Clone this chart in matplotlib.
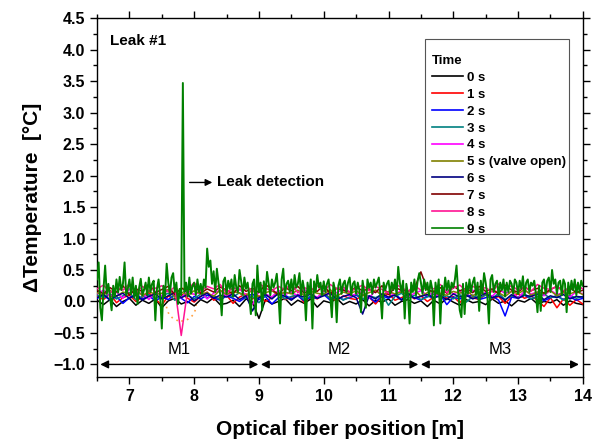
import numpy as np
import matplotlib
matplotlib.use("Agg")
import matplotlib.pyplot as plt
from matplotlib.patches import Ellipse, Rectangle
from matplotlib.ticker import MultipleLocator

plt.rcParams['font.family'] = ['Liberation Sans', 'DejaVu Sans']

# ---- data (values in hundredths of a degree C) ----
labels = ["0 s", "1 s", "2 s", "3 s", "4 s", "5 s (valve open)", "6 s", "7 s", "8 s", "9 s"]
colors = ["#000000", "#FF0000", "#0000FF", "#008080", "#FF00FF", "#808000",
          "#000080", "#800000", "#FF1493", "#008000"]

t0 = [2,-5,3,-8,0,5,-6,2,-3,4, -10,1,5,-4,0,-7,3,-2,6,-5, -3,2,-8,4,-1,-27,3,-4,0,5,
      -6,2,-3,4,-9,1,-2,5,-5,0, -4,3,-7,2,-1,4,-6,0,3,-3, 1,-8,2,-4,5,-1,-6,3,-2,0,
      -5,4,-3,1,-7,2,-1,5,-4,0, -2,3,-6,1,-3,-5]
t1 = [8,3,12,-2,6,10,0,7,14,4, -6,9,3,12,5,-1,8,15,2,6, 10,-3,7,12,4,9,0,6,13,3,
      7,11,-2,8,4,12,6,1,9,5, 3,10,7,-4,8,12,2,6,11,4, 9,0,7,13,5,8,-2,10,6,3,
      11,4,8,-3,7,12,5,9,2,-8, 6,-10,4,-6,3,-4]
t2 = [5,10,2,8,-3,6,12,4,9,1, 7,3,11,5,-2,8,4,10,6,2, 9,5,0,7,12,3,8,-4,6,10,
      4,9,1,7,5,11,2,8,3,6, 10,4,7,-1,9,5,12,3,8,6, 2,9,5,11,-5,7,4,8,10,3,
      6,9,2,-23,7,5,10,4,8,1, 6,9,3,7,2,5]
t3 = [10,6,12,4,9,14,3,8,11,5, 9,13,2,7,10,4,12,6,9,3, 11,7,14,5,8,-2,10,6,12,4,
      8,11,3,9,6,13,5,10,2,7, 12,4,9,6,11,-6,8,13,5,10, 3,7,12,6,9,4,11,-1,8,6,
      10,5,13,3,9,7,12,4,8,11, 6,9,2,10,5,8]
t4 = [12,18,8,15,5,20,10,14,3,16, 9,19,12,6,17,11,15,4,13,18, 8,14,20,10,-5,16,12,7,18,11,
      15,9,19,13,6,17,10,14,20,8, 12,16,5,18,11,15,9,19,7,13, 17,10,14,6,20,12,16,9,18,11,
      14,8,19,13,16,5,17,12,15,9, 18,11,14,7,16,12]
t5 = [14,10,18,8,15,12,20,9,16,11, 13,19,7,15,10,17,12,14,8,18, 11,16,13,9,19,6,14,17,10,15,
      12,18,9,16,13,11,19,8,15,12, 17,10,14,18,9,16,12,15,11,19, 8,14,17,12,10,16,13,18,9,15,
      11,17,14,8,16,12,19,10,15,13, 17,9,14,12,16,11]
t6 = [6,11,3,9,13,5,10,2,8,12, 4,9,14,6,11,1,8,13,5,10, 7,12,3,9,-15,6,11,4,13,8,
      2,10,7,12,5,9,14,3,8,11, 6,-20,9,4,12,7,10,2,13,5, 8,11,6,9,3,12,7,10,4,8,
      13,6,9,2,11,5,10,8,12,3, 9,6,11,4,8,7]
t7 = [18,12,22,15,25,10,20,16,28,14, 19,24,11,21,17,26,13,20,15,23, 18,12,25,16,21,14,27,19,11,22,
      17,24,13,20,16,26,12,21,18,15, 23,17,20,14,25,11,22,18,16,20, 47,19,15,22,13,25,17,21,14,24,
      16,20,12,26,18,15,23,17,21,13, 19,24,16,22,14,18]
t8 = [20,26,14,22,18,28,12,24,17,21, 25,15,23,-54,19,30,16,24,20,27, 13,22,18,26,15,29,21,17,24,19,
      28,14,22,18,25,16,27,20,23,15, 21,26,17,24,19,13,28,22,16,25, 18,23,20,27,14,21,26,17,24,19,
      22,15,28,20,25,18,23,16,27,21, 19,24,17,22,26,20]
t9 = [35,62,-10,-30,20,57,12,28,8,-14,
      25,8,35,14,39,18,28,62,10,20,
      35,12,38,6,25,-4,22,36,10,18,
      30,10,38,15,28,33,-30,20,35,8,
      -43,25,8,60,30,12,38,45,15,30,
      -4,20,10,347,15,30,8,38,12,25,
      30,10,35,15,28,12,35,22,84,55,
      65,28,48,15,52,30,12,-22,32,38,
      12,33,20,35,8,42,22,15,50,32,
      12,38,20,30,8,-20,28,35,-22,57,
      15,30,-14,32,12,47,28,10,35,22,
      30,44,12,-35,35,52,10,28,33,15,
      35,12,42,22,28,45,10,33,18,-30,
      30,12,35,-43,32,15,42,22,30,10,
      32,15,28,35,10,-25,30,18,-33,25,
      35,12,28,33,15,30,38,10,28,32,
      12,30,18,-17,33,15,-10,35,22,30,
      12,35,22,30,38,10,-27,30,18,28,
      33,12,30,18,35,10,55,30,15,33,
      -27,28,12,-35,30,15,35,10,33,45,
      30,12,35,18,30,10,33,20,-38,30,
      12,35,-35,25,10,38,18,33,12,30,
      22,35,57,15,-14,-25,28,-20,30,12,
      35,15,30,38,10,30,-15,33,12,45,
      30,10,-35,35,42,15,28,33,10,30,
      18,35,8,30,15,33,28,12,35,30,
      12,33,20,40,10,30,35,15,30,25,
      33,12,-17,25,-15,30,35,12,33,38,
      15,50,28,35,12,30,33,10,35,28,
      -17,30,12,33,18,35,10,30,15,33,
      25]
series = [t0, t1, t2, t3, t4, t5, t6, t7, t8, t9]
x_start, x_end = 6.5, 14.0

sections = ["M1", "M2", "M3"]
section_bounds = [(6.55, 8.99), (9.03, 11.46), (11.5, 13.94)]

# ---- figure ----
fig = plt.figure(figsize=(5.99, 4.42), dpi=100)
ax = fig.add_axes([0.162, 0.147, 0.811, 0.812])

# dotted orange ellipse around leak position (behind data)
ax.add_patch(Ellipse((7.8, -0.05), 0.46, 0.52, fill=False, ls=(0, (1.0, 2.5)),
                     lw=1.2, ec='#FFA040', zorder=1))

for i, (vals, lab, col) in enumerate(zip(series, labels, colors)):
    y = np.array(vals) / 100.0
    x = np.linspace(x_start, x_end, len(y))
    ax.plot(x, y, color=col, lw=1.4 if i == 9 else 1.1, label=lab, zorder=2 + i)

ax.set_xlim(6.5, 14)
ax.set_ylim(-1.2, 4.5)
ax.xaxis.set_major_locator(MultipleLocator(1))
ax.xaxis.set_minor_locator(MultipleLocator(0.5))
ax.yaxis.set_major_locator(MultipleLocator(0.5))
ax.yaxis.set_minor_locator(MultipleLocator(0.25))
ax.tick_params(which='both', direction='out', top=True, right=True, width=1.0)
ax.tick_params(which='major', length=5, labelsize=11.5)
ax.tick_params(which='minor', length=3)
ax.set_xticks([7, 8, 9, 10, 11, 12, 13, 14])
ax.set_xticklabels([str(v) for v in [7, 8, 9, 10, 11, 12, 13, 14]])
for lbl in ax.get_xticklabels() + ax.get_yticklabels():
    lbl.set_fontweight('bold')
for s in ax.spines.values():
    s.set_linewidth(1.0)

ax.set_xlabel("Optical fiber position [m]", fontsize=15, fontweight='bold', labelpad=12)
ax.set_ylabel("ΔTemperature  [°C]", fontsize=15, fontweight='bold', labelpad=8)

# section arrows
for name, (a, b) in zip(sections, section_bounds):
    ax.annotate("", xy=(a, -1.0), xytext=(b, -1.0),
                arrowprops=dict(arrowstyle='<|-|>', color='black', lw=1.0,
                                mutation_scale=12, shrinkA=0, shrinkB=0))
    ax.text((a + b) / 2, -0.76, name, ha='center', va='center', fontsize=12)

ax.text(0.027, 0.936, "Leak #1", transform=ax.transAxes, fontsize=11,
        fontweight='bold', ha='left', va='center')
ax.annotate("", xy=(8.28, 1.89), xytext=(7.93, 1.89),
            arrowprops=dict(arrowstyle='-|>', color='black', lw=1.0,
                            mutation_scale=10, shrinkA=0, shrinkB=0))
ax.text(8.35, 1.89, "Leak detection", fontsize=11, fontweight='bold',
        ha='left', va='center')

# legend frame drawn separately (asymmetric padding like the original)
ax.add_patch(Rectangle((0.675, 0.398), 0.296, 0.5435, transform=ax.transAxes,
                       fill=True, fc='white', ec='#555555', lw=0.8, zorder=20))
leg = ax.legend(title="Time", loc='upper left', bbox_to_anchor=(0.690, 0.897),
                fontsize=9.5, title_fontsize=9.5, frameon=False,
                handlelength=2.3, handletextpad=0.35, labelspacing=0.35,
                borderpad=0.0, borderaxespad=0)
leg.set_zorder(21)
leg._legend_box.align = "left"
leg.get_title().set_fontweight('bold')
for t in leg.get_texts():
    t.set_fontweight('bold')
for h in leg.get_lines():
    h.set_linewidth(1.2)

fig.savefig("out.png", dpi=100)
